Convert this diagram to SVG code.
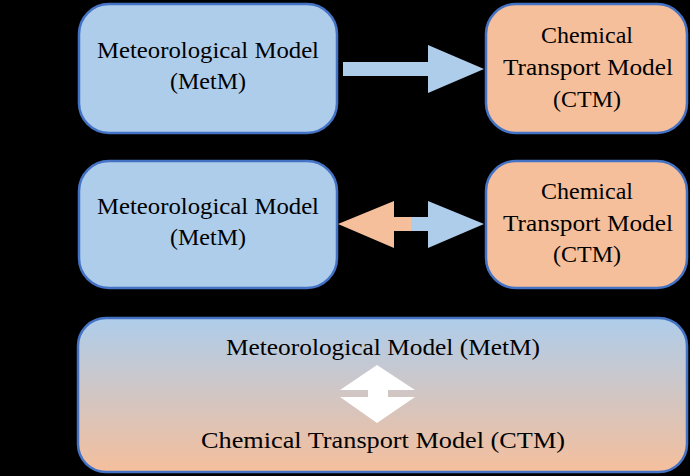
<svg xmlns="http://www.w3.org/2000/svg" width="690" height="476" viewBox="0 0 690 476">
<defs>
<linearGradient id="grad" x1="0" y1="0" x2="0" y2="1">
<stop offset="0" stop-color="#AECDEB"/>
<stop offset="1" stop-color="#F5BF9C"/>
</linearGradient>
<style>
.box{stroke:#4472C4;stroke-width:2.5}
.blue{fill:#AECDEB}
.orange{fill:#F5BF9C}
text{font-family:"Liberation Serif","Times New Roman",serif;font-size:24px;fill:#000;text-anchor:middle}
</style>
</defs>
<rect x="0" y="0" width="690" height="476" fill="#000"/>
<g id="metm1">
<rect class="box blue" x="79" y="4" width="258" height="129" rx="30"/>
<text x="208" y="58" textLength="222" lengthAdjust="spacingAndGlyphs">Meteorological Model</text>
<text x="208" y="89">(MetM)</text>
</g>
<g id="ctm1">
<rect class="box orange" x="486" y="4" width="201" height="129" rx="30"/>
<text x="587" y="43">Chemical</text>
<text x="588" y="75" textLength="170" lengthAdjust="spacingAndGlyphs">Transport Model</text>
<text x="587" y="107">(CTM)</text>
</g>
<g id="metm2">
<rect class="box blue" x="79" y="161" width="258" height="127" rx="30"/>
<text x="208" y="214" textLength="222" lengthAdjust="spacingAndGlyphs">Meteorological Model</text>
<text x="208" y="245">(MetM)</text>
</g>
<g id="ctm2">
<rect class="box orange" x="486" y="161" width="201" height="127" rx="30"/>
<text x="587" y="199">Chemical</text>
<text x="588" y="231" textLength="170" lengthAdjust="spacingAndGlyphs">Transport Model</text>
<text x="587" y="262">(CTM)</text>
</g>
<g id="coupled">
<rect class="box" fill="url(#grad)" x="78" y="318" width="609" height="154" rx="28"/>
<text x="383" y="355" textLength="314" lengthAdjust="spacingAndGlyphs">Meteorological Model (MetM)</text>
<text x="383" y="448" textLength="364" lengthAdjust="spacingAndGlyphs">Chemical Transport Model (CTM)</text>
</g>
<g id="connectors">
<polygon class="blue" points="343,62 428,62 428,45 484,69 428,93 428,76 343,76"/>
<polygon class="orange" points="338,224 394,201 394,217 412,217 412,231 394,231 394,248"/>
<polygon class="blue" points="484,224 428,201 428,217 411,217 411,231 428,231 428,248"/>
<polygon fill="#FFFFFF" points="377,365 415,390 388,390 388,397 415,397 377,423 340,397 368,397 368,390 340,390"/>
</g>
</svg>
